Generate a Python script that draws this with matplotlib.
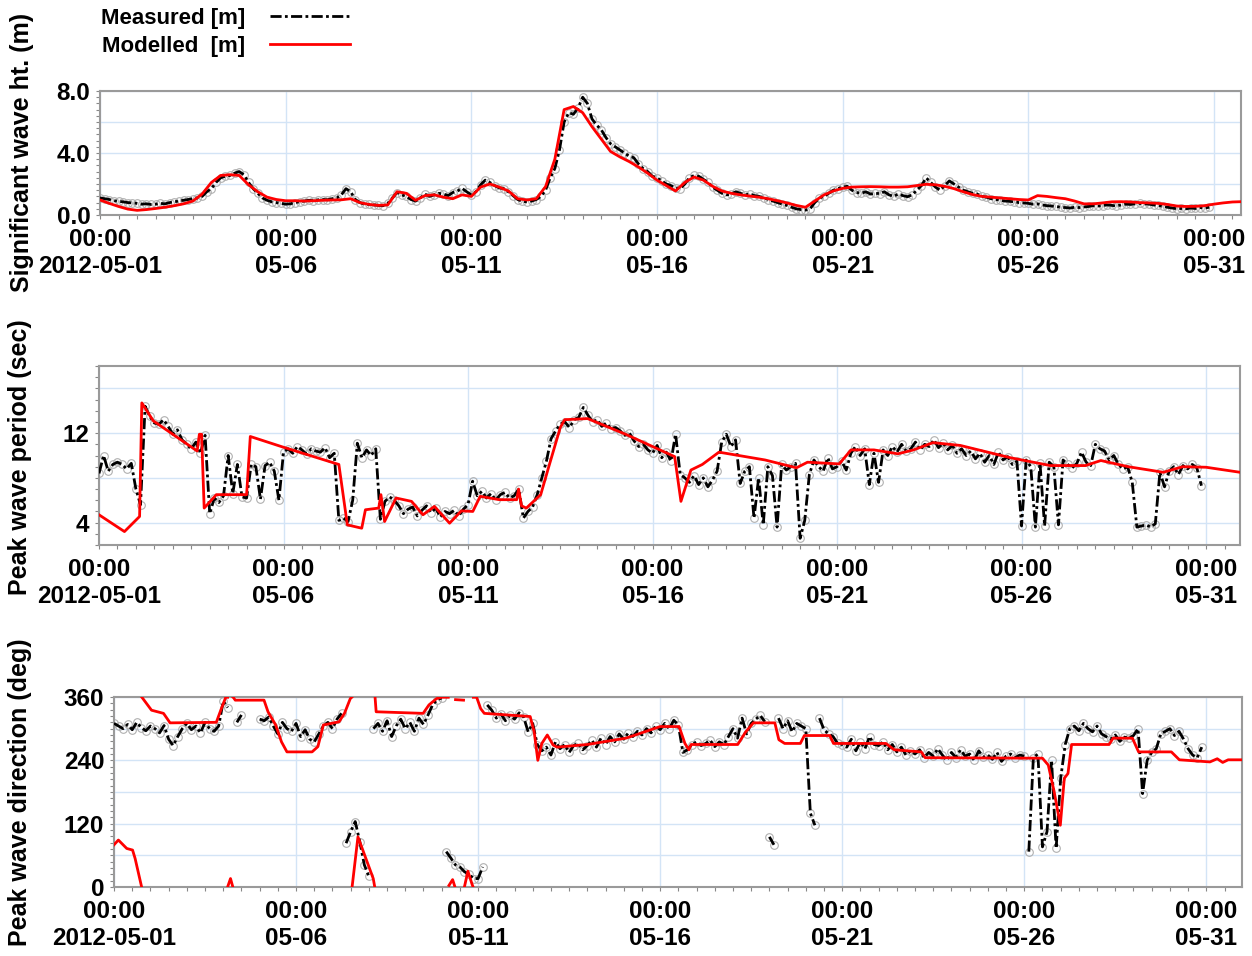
import numpy as np
import matplotlib
matplotlib.use("Agg")
import matplotlib.pyplot as plt
import matplotlib.dates as mdates
import matplotlib.ticker as mticker
from datetime import datetime

plt.rcParams['font.family'] = ['Liberation Sans', 'DejaVu Sans']
plt.rcParams['font.weight'] = 'bold'

t0 = mdates.date2num(datetime(2012, 5, 1))

# ---- significant wave height (m) ----
# measured, 3-hourly from 2012-05-01 00:00 (one row per day)
hs_meas = [
    1.10, 1.05, 1.00, 0.92, 0.88, 0.85, 0.80, 0.78,
    0.75, 0.70, 0.72, 0.68, 0.70, 0.75, 0.72, 0.80,
    0.85, 0.90, 0.95, 1.00, 1.05, 1.10, 1.20, 1.50,
    1.70, 2.10, 2.40, 2.50, 2.55, 2.70, 2.80, 2.60,
    2.10, 1.70, 1.40, 1.10, 0.95, 0.85, 0.80, 0.75,
    0.70, 0.72, 0.80, 0.85, 0.90, 0.95, 0.92, 0.98,
    1.00, 0.98, 1.05, 1.10, 1.30, 1.70, 1.50, 1.00,
    0.80, 0.70, 0.68, 0.65, 0.62, 0.60, 0.75, 1.10,
    1.45, 1.30, 1.20, 1.00, 0.90, 1.10, 1.35, 1.20,
    1.30, 1.40, 1.35, 1.25, 1.45, 1.55, 1.72, 1.50,
    1.30, 1.50, 1.95, 2.25, 2.10, 1.90, 1.75, 1.70,
    1.50, 1.25, 1.00, 0.88, 0.85, 0.90, 1.00, 1.20,
    1.60, 2.40, 3.00, 4.20, 6.00, 6.60, 6.50, 6.90,
    7.60, 7.20, 6.20, 5.80, 5.50, 5.00, 4.60, 4.40,
    4.20, 4.00, 3.80, 3.70, 3.30, 3.00, 2.80, 2.50,
    2.40, 2.20, 2.00, 1.90, 1.75, 1.70, 2.00, 2.40,
    2.55, 2.50, 2.30, 2.10, 1.80, 1.60, 1.40, 1.30,
    1.35, 1.50, 1.40, 1.30, 1.35, 1.25, 1.20, 1.10,
    1.00, 0.90, 0.80, 0.70, 0.62, 0.50, 0.40, 0.35,
    0.32, 0.40, 0.80, 1.10, 1.20, 1.40, 1.60, 1.70,
    1.80, 1.85, 1.60, 1.45, 1.40, 1.50, 1.35, 1.40,
    1.38, 1.50, 1.30, 1.20, 1.35, 1.25, 1.18, 1.30,
    1.60, 1.90, 2.40, 2.10, 1.80, 1.60, 1.90, 2.20,
    2.00, 1.80, 1.60, 1.50, 1.40, 1.35, 1.20, 1.15,
    1.05, 1.00, 0.95, 0.90, 0.88, 0.85, 0.80, 0.78,
    0.75, 0.70, 0.72, 0.65, 0.60, 0.58, 0.55, 0.50,
    0.48, 0.45, 0.50, 0.48, 0.52, 0.55, 0.60, 0.58,
    0.60, 0.65, 0.62, 0.58, 0.65, 0.70, 0.68, 0.72,
    0.75, 0.72, 0.70, 0.65, 0.62, 0.55, 0.50, 0.45,
    0.40, 0.42, 0.40, 0.45, 0.42, 0.48, 0.45, 0.50,
]
# modelled, 6-hourly
hs_mod = [
    0.97, 0.75, 0.55, 0.38,  0.30, 0.35, 0.42, 0.50,
    0.60, 0.72, 0.90, 1.35,  2.10, 2.55, 2.60, 2.55,
    1.95, 1.50, 1.15, 1.00,  0.92, 0.92, 0.90, 0.92,
    0.95, 0.97, 0.98, 1.05,  0.80, 0.68, 0.62, 0.65,
    1.50, 1.40, 0.95, 1.25,  1.30, 1.15, 1.05, 1.30,
    1.20, 1.80, 2.00, 1.80,  1.55, 1.05, 0.97, 1.05,
    1.83, 3.60, 6.80, 7.00,  6.60, 5.70, 4.90, 4.10,
    3.75, 3.45, 3.10, 2.70,  2.25, 1.90, 1.55, 2.10,
    2.45, 2.25, 1.85, 1.55,  1.40, 1.30, 1.22, 1.15,
    1.05, 0.92, 0.78, 0.62,  0.50, 0.90, 1.30, 1.55,
    1.72, 1.80, 1.82, 1.83,  1.82, 1.80, 1.80, 1.82,
    1.90, 1.98, 1.95, 1.85,  1.70, 1.50, 1.32, 1.20,
    1.15, 1.10, 1.05, 1.00,  0.97, 1.25, 1.20, 1.12,
    1.05, 0.90, 0.72, 0.72,  0.78, 0.85, 0.86, 0.84,
    0.80, 0.78, 0.75, 0.68,  0.58, 0.55, 0.56, 0.60,
    0.70, 0.78, 0.84, 0.86,
]

# ---- peak wave period (s) ----
tp_meas = [
    8.4, 10.0, 8.6, 9.2, 9.4, 9.2, 8.8, 9.3,
    7.0, 5.6, 14.4, 13.5, 12.9, 12.8, 13.2, 12.6,
    11.9, 12.3, 11.4, 11.0, 10.6, 11.2, 10.2, 11.8,
    4.8, 6.2, 5.8, 6.4, 10.0, 6.6, 9.2, 6.3,
    6.2, 9.2, 9.0, 6.1, 9.1, 9.4, 8.6, 6.0,
    10.3, 10.6, 10.2, 10.8, 10.5, 10.1, 10.6, 10.4,
    10.3, 10.7, 9.8, 10.2, 4.2, 4.4, 4.1, 6.0,
    11.1, 9.8, 10.5, 10.0, 10.6, 4.3, 5.9, 6.3,
    6.0, 5.5, 4.8, 5.2, 5.4, 4.6, 5.1, 5.5,
    4.9, 5.3, 4.5, 5.0, 4.8, 5.1, 4.6, 5.2,
    5.6, 7.7, 6.4, 6.8, 6.2, 6.6, 6.0, 6.5,
    6.7, 6.2, 6.4, 7.0, 4.4, 5.0, 5.4, 6.5,
    8.0, 9.5, 11.5, 12.2, 12.8, 13.0, 12.5, 13.2,
    13.4, 14.3, 13.6, 13.0, 13.2, 12.6, 12.9, 12.4,
    12.5, 12.2, 11.8, 12.0, 11.3, 10.8, 11.0, 10.5,
    10.2, 10.9, 9.8, 10.3, 9.5, 11.9, 8.3, 8.0,
    7.6, 8.2, 7.4, 8.0, 7.2, 7.8, 8.6, 11.2,
    11.9, 10.8, 11.4, 7.5, 8.6, 9.0, 4.4, 8.0,
    3.8, 9.0, 8.2, 3.6, 9.2, 8.7, 9.0, 9.3,
    2.6, 4.2, 8.3, 9.6, 9.0, 8.6, 9.8, 8.8,
    9.0, 9.5, 8.7, 10.2, 10.8, 10.0, 10.6, 7.4,
    10.2, 7.6, 10.5, 10.0, 10.8, 10.3, 11.0, 10.4,
    10.6, 11.2, 10.5, 11.0, 10.8, 11.4, 10.7, 11.1,
    10.5, 10.9, 10.2, 10.6, 10.0, 10.4, 9.7, 10.2,
    9.4, 10.0, 9.2, 10.3, 9.6, 9.9, 9.2, 9.5,
    3.7, 9.6, 9.0, 3.6, 9.3, 3.7, 9.4, 9.0,
    3.8, 9.6, 9.2, 8.9, 9.3, 10.3, 9.4, 9.1,
    11.0, 10.6, 10.4, 9.6, 10.0, 9.2, 8.8, 9.0,
    7.6, 3.6, 3.7, 3.8, 3.6, 3.9, 8.5, 7.2,
    8.6, 9.0, 8.3, 9.1, 8.8, 9.2, 8.9, 7.3,
]
tp_mod_day = [0, 0.69, 1.1, 1.16, 1.47, 2.66, 2.72, 2.78, 2.85, 3.18, 4.0, 4.1,
              4.94, 6.4, 6.5, 6.73, 7.12, 7.22, 7.58, 7.64, 7.74, 8.05, 8.47,
              8.78, 9.09, 9.5, 9.82, 10.13, 10.33, 10.85, 11.32, 11.37, 11.45,
              11.58, 11.97, 12.18, 12.5, 12.62, 13.24, 14.27, 15.6, 15.77,
              16.04, 16.35, 16.8, 18.05, 18.9, 19.2, 20.06, 20.38, 21.0, 21.65,
              22.07, 22.6, 23.34, 24.7, 25.78, 26.73, 27.15, 27.89, 28.84,
              29.37, 30.0, 30.92]
tp_mod = [4.7, 3.2, 4.55, 14.7, 13.1, 10.4, 11.9, 11.9, 5.3, 6.5, 6.5, 11.7,
          10.8, 9.3, 9.2, 3.8, 3.5, 5.15, 5.3, 6.5, 4.1, 6.2, 5.9,
          4.7, 5.45, 3.95, 5.05, 5.0, 6.35, 6.05, 6.05, 7.0, 5.5,
          5.3, 6.5, 8.9, 12.5, 13.2, 13.3, 11.9, 9.9, 5.9,
          8.7, 9.2, 10.3, 9.6, 8.9, 9.4, 9.25, 10.5, 10.5, 10.15,
          10.5, 11.15, 10.9, 9.8, 9.1, 9.1, 9.55, 9.0, 8.5,
          9.0, 8.95, 8.5]

# ---- peak wave direction (deg) ----
nan = np.nan
dir_meas = [
    310, 305, 300, 308, 298, 312, 302, 296,
    305, 300, 292, 306, 280, 268, 285, 300,
    310, 298, 305, 292, 312, 300, 295, 305,
    352, 340, nan, 312, 326, nan, nan, nan,
    318, 315, 322, 305, 290, 312, 300, 295,
    310, 285, 298, 280, 275, 290, 305, 312,
    300, 318, 329, 83, 105, 124, 86, 42,
    20, 300, 310, 295, 315, 285, 305, 318,
    300, 312, 295, 320, 308, 326, 345, 355,
    358, 67, 55, 42, 38, 29, 24, 16,
    16, 38, 345, 335, 320, 328, 315, 325,
    318, 330, 322, 294, 310, 270, 258, 265,
    250, 275, 262, 270, 255, 268, 272, 260,
    268, 278, 265, 282, 270, 285, 275, 290,
    280, 292, 285, 295, 288, 300, 292, 305,
    298, 310, 300, 316, 307, 255, 260, 270,
    275, 268, 272, 278, 266, 275, 270, 285,
    300, 282, 320, 290, 310, 318, 325, 313,
    95, 80, 320, 300, 315, 294, 310, 305,
    300, 140, 117, 320, 298, 290, 285, 272,
    270, 265, 280, 258, 275, 262, 285, 270,
    268, 275, 260, 270, 256, 265, 250, 258,
    252, 260, 245, 255, 248, 262, 250, 240,
    255, 245, 260, 248, 252, 240, 258, 246,
    250, 242, 255, 238, 248, 252, 245, 250,
    248, 67, 245, 252, 76, 105, 240, 73,
    206, 270, 300, 305, 296, 310, 300, 294,
    305, 290, 285, 280, 288, 276, 284, 282,
    287, 300, 177, 240, 255, 262, 290, 295,
    300, 287, 295, 280, 262, 250, 245, 265,
]
dir_mod_day = [0, 0.12, 0.35, 0.51, 0.58, 0.759, 0.761, 1.03, 1.36, 1.54, 2.81,
               2.97, 3.07, 3.12, 3.13, 3.2, 3.26, 3.27, 3.28, 3.33, 4.12, 4.23,
               4.44, 4.6, 4.75, 5.44, 5.6, 5.75, 6.18, 6.33, 6.49, 6.53, 6.54,
               6.7, 7.12, 7.16, 7.17, 7.2, 8.49, 8.65, 8.86, 9.0, 9.18, 9.2, 9.3,
               9.36, 9.38, 9.6, 9.63, 9.72, 9.83, 9.86, 9.87, 9.96, 10.07, 10.17,
               11.43, 11.54, 11.64, 11.75, 11.9, 12.06, 12.17, 13.0, 14.06, 15.0,
               15.52, 15.68, 15.79, 15.85, 17.13, 17.35, 17.56, 18.15, 18.26,
               18.42, 18.85, 18.96, 19.66, 19.76, 21.2, 21.43, 22.17, 22.28, 25.5,
               25.66, 25.82, 25.99, 26.1, 26.2, 26.3, 27.33, 27.44, 27.97, 28.14,
               29.04, 29.26, 30.1, 30.3, 30.45, 30.6, 30.98]
dir_mod = [80, 89, 73, 70, 54, 0, 360, 335, 329, 311, 312,
           342, 359.5, 359.5, 2, 16, 1, 359.5, 359, 354, 354, 332,
           307, 275, 256, 256, 266, 307, 313, 329, 357, 359.5, 0.5,
           95, 16, 0.5, 359.5, 332, 329, 345, 357, 359.5, 359.5, 3, 14,
           1, 355, 354, 2, 30, 6, 0.5, 359.5, 359.5, 338, 329,
           323, 294, 240, 272, 288, 269, 265, 270, 282, 304,
           304, 272, 260, 270, 270, 294, 311, 311, 279,
           272, 272, 287, 287, 272, 272, 260, 256, 245, 244,
           231, 181, 117, 206, 215, 270, 270, 282, 282, 256,
           256, 241, 237, 243, 236, 241, 241]


def break_wraps(t, v):
    # split the line where the direction wraps through 0/360
    t = np.asarray(t, float)
    v = np.asarray(v, float)
    jumps = np.where(np.abs(np.diff(v)) > 180)[0] + 1
    return np.insert(t, jumps, np.nan), np.insert(v, jumps, np.nan)


def date_fmt(x, pos):
    d = mdates.num2date(x)
    if pos == 0:
        return d.strftime('%H:%M\n%Y-%m-%d')
    return d.strftime('%H:%M\n%m-%d')


def style_axis(ax, xmax, yticks, ylabels, yminor, ylim):
    ax.set_xlim(t0, t0 + xmax)
    ax.set_ylim(*ylim)
    ax.xaxis.set_major_locator(mdates.DayLocator(bymonthday=[1, 6, 11, 16, 21, 26, 31]))
    ax.xaxis.set_minor_locator(mdates.HourLocator(byhour=[0, 12]))
    ax.xaxis.set_major_formatter(mticker.FuncFormatter(date_fmt))
    ax.yaxis.set_major_locator(mticker.FixedLocator(yticks))
    ax.yaxis.set_major_formatter(mticker.FixedFormatter(ylabels))
    ax.yaxis.set_minor_locator(mticker.MultipleLocator(yminor))
    ax.grid(True, which='major', color='#d3e4f6', lw=1.0)
    ax.set_axisbelow(True)
    ax.tick_params(which='both', direction='out', length=3, width=0.8,
                   color='#888888', labelsize=17.5)
    ax.tick_params(axis='x', pad=6.5)
    ax.tick_params(axis='y', pad=4)
    for s in ax.spines.values():
        s.set_color('#9a9a9a')
        s.set_linewidth(1.5)


def draw_meas(ax, t, v):
    ax.plot(t, v, ls='none', marker='o', ms=5.5, mfc='none', mec='#b0b0b0',
            mew=0.8, zorder=2)
    return ax.plot(t, v, color='black', lw=2.0, ls=(0, (4, 1.2, 1, 1.2)),
                   zorder=3)[0]


W, H = 1252, 956
fig = plt.figure(figsize=(W / 100, H / 100), dpi=100)
ax1 = fig.add_axes([100 / W, 1 - 215 / H, 1141 / W, 124 / H])
ax2 = fig.add_axes([99 / W, 1 - 545 / H, 1141 / W, 179 / H])
ax3 = fig.add_axes([114 / W, 1 - 887 / H, 1128 / W, 190 / H])

t_meas = t0 + np.arange(240) * 0.125
t_hs_mod = t0 + np.arange(len(hs_mod)) * 0.25

# wave height
l_meas = draw_meas(ax1, t_meas, hs_meas)
l_mod, = ax1.plot(t_hs_mod, hs_mod, color='#ff0000', lw=2, zorder=4)
style_axis(ax1, 30.73, [0, 2, 4, 6, 8], ['0.0', '', '4.0', '', '8.0'], 0.4, (0, 8))

# period
draw_meas(ax2, t_meas, tp_meas)
ax2.plot(t0 + np.array(tp_mod_day), tp_mod, color='#ff0000', lw=2, zorder=4)
style_axis(ax2, 30.92, [4, 8, 12, 16], ['4', '', '12', ''], 1, (2, 18))

# direction
tm, vm = break_wraps(t_meas, dir_meas)
draw_meas(ax3, tm, vm)
td, vd = break_wraps(t0 + np.array(dir_mod_day), dir_mod)
ax3.plot(td, vd, color='#ff0000', lw=2, zorder=4)
style_axis(ax3, 30.98, [0, 60, 120, 180, 240, 300, 360],
           ['0', '', '120', '', '240', '', '360'], 12, (0, 360))

# axis titles
fig.text(22 / W, 1 - 152 / H, 'Significant wave ht. (m)', rotation=90,
         ha='center', va='center', fontsize=18)
fig.text(20 / W, 1 - 457 / H, 'Peak wave period (sec)', rotation=90,
         ha='center', va='center', fontsize=18)
fig.text(20 / W, 1 - 792 / H, 'Peak wave direction (deg)', rotation=90,
         ha='center', va='center', fontsize=18)

fig.legend([l_meas, l_mod], ['Measured [m]', 'Modelled  [m]'],
           loc='upper left', bbox_to_anchor=(101 / W, 1 - 8 / H),
           frameon=False, markerfirst=False, fontsize=16, handlelength=3.6,
           handletextpad=1.1, labelspacing=0.3, borderpad=0, borderaxespad=0)

fig.savefig('out.png', dpi=100)
